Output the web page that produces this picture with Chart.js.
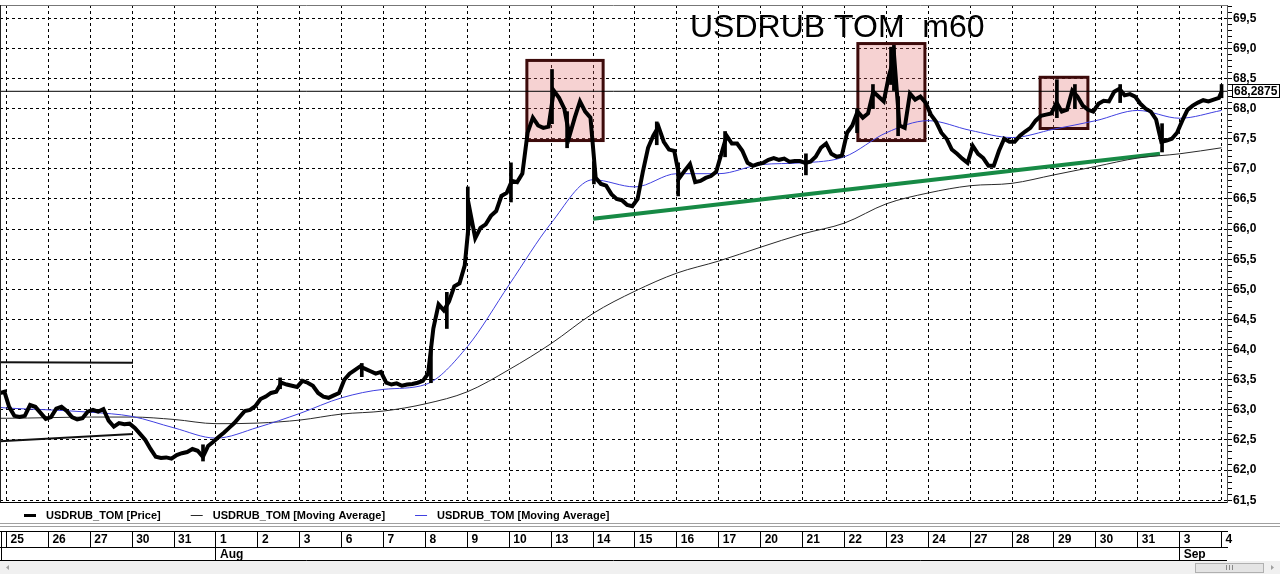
<!DOCTYPE html>
<html>
<head>
<meta charset="utf-8">
<script src="https://cdn.jsdelivr.net/npm/chart.js@4.4.1/dist/chart.umd.min.js"></script>
<style>
  html, body { margin: 0; padding: 0; background: #fff; }
  #wrap { width: 1280px; height: 574px; }
</style>
</head>
<body>
<div id="wrap"><canvas id="chart" width="1280" height="574"></canvas></div>
<script>
// USDRUB TOM, hourly bars (m60). x = trading-day index, 0 = Jul 25
const title = 'USDRUB TOM  m60';
const dayLabels = ['25','26','27','30','31','1','2','3','6','7','8','9','10','13','14','15','16','17','20','21','22','23','24','27','28','29','30','31','3','4'];
const monthTicks = [5, 28];
const monthLabels = ['Aug', 'Sep'];
const xMin = -0.155, xMax = 29.13;
const yMin = 61.47, yMax = 69.72;

// price: tail of Jul 24, then 8 readings per trading day, then Sep 4 open
const priceHead = [[-0.155, 63.28], [-0.05, 63.3]];
const priceByDay = [
  [63.05, 62.9, 62.88, 62.9, 63.08, 63.05, 62.95, 62.85],
  [62.88, 63.02, 63.05, 62.98, 62.88, 62.84, 62.86, 62.97],
  [63.0, 62.97, 63.01, 62.82, 62.72, 62.78, 62.76, 62.77],
  [62.7, 62.6, 62.5, 62.35, 62.22, 62.2, 62.21, 62.19],
  [62.25, 62.28, 62.3, 62.35, 62.32, 62.22, 62.4, 62.47],
  [62.55, 62.62, 62.7, 62.78, 62.88, 62.98, 63.0, 63.06],
  [63.18, 63.22, 63.28, 63.3, 63.45, 63.42, 63.4, 63.38],
  [63.48, 63.45, 63.4, 63.28, 63.22, 63.2, 63.24, 63.28],
  [63.5, 63.6, 63.66, 63.72, 63.68, 63.64, 63.6, 63.63],
  [63.45, 63.42, 63.44, 63.4, 63.42, 63.43, 63.45, 63.48],
  [63.6, 64.35, 64.75, 64.65, 64.8, 65.05, 65.1, 65.4],
  [66.3, 65.85, 66.02, 66.08, 66.22, 66.3, 66.55, 66.6],
  [66.8, 66.78, 66.92, 67.6, 67.85, 67.72, 67.68, 67.7],
  [68.3, 68.18, 68.0, 67.55, 67.85, 68.12, 67.95, 67.85],
  [66.85, 66.75, 66.72, 66.58, 66.5, 66.48, 66.4, 66.38],
  [66.5, 66.95, 67.35, 67.55, 67.7, 67.45, 67.32, 67.3],
  [66.85, 66.97, 67.08, 66.78, 66.8, 66.85, 66.88, 66.95],
  [67.25, 67.55, 67.42, 67.42, 67.3, 67.1, 67.05, 67.08],
  [67.1, 67.15, 67.18, 67.15, 67.17, 67.12, 67.13, 67.13],
  [67.1, 67.12, 67.2, 67.35, 67.42, 67.25, 67.2, 67.22],
  [67.6, 67.72, 67.95, 67.85, 67.92, 68.28, 68.2, 68.12],
  [68.55, 68.85, 67.72, 67.68, 68.25, 68.15, 68.2, 68.1],
  [67.9, 67.78, 67.6, 67.5, 67.32, 67.25, 67.17, 67.1],
  [67.38, 67.25, 67.18, 67.05, 67.05, 67.3, 67.5, 67.45],
  [67.45, 67.55, 67.62, 67.68, 67.8, 67.88, 67.9, 67.92],
  [68.1, 67.95, 67.98, 68.3, 68.2, 68.05, 67.98, 67.95],
  [68.08, 68.13, 68.12, 68.28, 68.33, 68.22, 68.24, 68.2],
  [68.08, 68.0, 67.95, 67.82, 67.45, 67.47, 67.5, 67.6],
  [67.8, 67.98, 68.05, 68.1, 68.14, 68.12, 68.15, 68.18]
];
const priceTail = [[29.0, 68.28]];
// notable high-low bars: [day, low, high]
const wicks = [
  [4.69, 62.15, 62.42], [6.53, 63.35, 63.53], [8.48, 63.55, 63.77], [10.13, 63.45, 64.05],
  [10.51, 64.35, 64.95], [11.01, 65.9, 66.7], [12.04, 66.45, 67.1], [13.02, 67.75, 68.65],
  [13.38, 67.35, 67.95], [14.02, 66.75, 67.12], [15.52, 67.4, 67.78], [16.03, 66.55, 67.1],
  [17.15, 67.2, 67.62], [19.08, 66.9, 67.25], [20.3, 67.6, 68.0], [20.68, 68.0, 68.4],
  [21.11, 68.4, 69.02], [21.18, 68.3, 69.05], [21.28, 67.55, 68.2], [25.07, 67.85, 68.48],
  [25.5, 68.0, 68.4], [26.58, 68.1, 68.4], [27.58, 67.28, 67.75], [29.0, 68.18, 68.4]
];

// moving averages, read at each day boundary
const maDays = [-0.155, 0, 1, 2, 3, 4, 5, 6, 7, 8, 9, 10, 11, 12, 13, 14, 15, 16, 17, 18, 19, 20, 21, 22, 23, 24, 25, 26, 27, 28, 29];
const maSlow = [62.86, 62.86, 62.87, 62.88, 62.88, 62.84, 62.77, 62.78, 62.83, 62.93, 62.98, 63.1, 63.3, 63.67, 64.1, 64.6,
  64.97, 65.27, 65.47, 65.7, 65.92, 66.1, 66.42, 66.6, 66.72, 66.76, 66.9, 67.04, 67.18, 67.25, 67.35];
const maFast = [63.04, 63.03, 63.0, 62.96, 62.89, 62.7, 62.53, 62.71, 62.94, 63.2, 63.34, 63.42, 64.05, 65.08, 66.1, 66.82,
  66.7, 66.92, 66.92, 67.07, 67.1, 67.2, 67.6, 67.8, 67.64, 67.52, 67.66, 67.8, 67.97, 67.84, 67.97];

const lastPrice = 68.2875;
const supportLine = [[14.0, 66.17], [27.53, 67.25]];
const rangeHigh = [[-0.155, 63.79], [3.02, 63.78]];
const rangeLow = [[-0.155, 62.48], [3.02, 62.6]];
// highlighted zones: [day from, day to, low, high]
const boxes = [[12.42, 14.24, 67.47, 68.8], [20.32, 21.92, 67.47, 69.08], [24.67, 25.81, 67.67, 68.52]];

const FONT = '"Liberation Sans", Arial, sans-serif';
const isHalf = v => Math.abs(v * 2 - Math.round(v * 2)) < 1e-6;
const pts = arr => arr.map(([x, y]) => ({x, y}));

const pricePts = pts(priceHead);
priceByDay.forEach((vals, k) => vals.forEach((v, i) => pricePts.push({x: k + (i + 0.5) / vals.length, y: v})));
pricePts.push(...pts(priceTail));

const dayTicks = dayLabels.map((_, i) => ({value: i}));

const decor = {
  id: 'decor',
  beforeDatasetsDraw(chart) {
    const {ctx, scales: {x, y}} = chart;
    ctx.save();
    boxes.forEach(([d0, d1, lo, hi]) => {
      const l = x.getPixelForValue(d0), r = x.getPixelForValue(d1);
      const t = y.getPixelForValue(hi), b = y.getPixelForValue(lo);
      ctx.fillStyle = 'rgba(225,105,105,0.3)';
      ctx.fillRect(l, t, r - l, b - t);
      ctx.lineWidth = 3;
      ctx.strokeStyle = '#3d0b0b';
      ctx.strokeRect(l, t, r - l, b - t);
    });
    ctx.restore();
  },
  afterDraw(chart) {
    const {ctx, chartArea: a, scales: {y, xd, xm}} = chart;
    const W = chart.width, H = chart.height;
    ctx.save();

    // pane frame
    ctx.lineWidth = 1;
    ctx.strokeStyle = '#777';
    ctx.beginPath();
    ctx.moveTo(0, a.top + 0.5); ctx.lineTo(a.right, a.top + 0.5);
    ctx.stroke();
    ctx.strokeStyle = '#222';
    ctx.beginPath();
    ctx.moveTo(0.5, a.top); ctx.lineTo(0.5, a.bottom);
    ctx.stroke();

    // title
    ctx.fillStyle = '#000';
    ctx.font = '32px ' + FONT;
    ctx.textBaseline = 'alphabetic';
    ctx.fillText(title, a.left + 690, a.top + 32);

    // legend
    const ly = a.bottom + 13.5;
    ctx.font = 'bold 11px ' + FONT;
    ctx.textBaseline = 'middle';
    let lx = 24;
    chart.data.datasets.slice(0, 3).forEach(ds => {
      ctx.strokeStyle = ds.borderColor;
      ctx.lineWidth = Math.min(ds.borderWidth, 3);
      ctx.beginPath(); ctx.moveTo(lx, ly); ctx.lineTo(lx + 12, ly); ctx.stroke();
      ctx.fillStyle = '#000';
      ctx.fillText(ds.label, lx + 22, ly);
      lx += 22 + ctx.measureText(ds.label).width + 30;
    });

    // separators around legend
    ctx.lineWidth = 1;
    ctx.strokeStyle = '#a0a0a0';
    [21.5, 24.5].forEach(o => {
      ctx.beginPath(); ctx.moveTo(0, a.bottom + o); ctx.lineTo(W, a.bottom + o); ctx.stroke();
    });

    // date strip frame
    ctx.strokeStyle = '#000';
    ctx.beginPath();
    ctx.moveTo(0, xm.bottom + 0.5); ctx.lineTo(a.right, xm.bottom + 0.5);
    ctx.moveTo(1.5, xd.top); ctx.lineTo(1.5, xm.bottom);
    ctx.stroke();

    // scrollbar
    ctx.fillStyle = '#f0f0f0';
    ctx.fillRect(0, xm.bottom + 1, W, H - xm.bottom - 1);
    ctx.fillStyle = '#e4e4e4';
    ctx.strokeStyle = '#b0b0b0';
    ctx.fillRect(1195, 563, 68, 9);
    ctx.strokeRect(1195.5, 563.5, 68, 9);
    ctx.strokeStyle = '#888';
    [1226.5, 1229.5, 1232.5].forEach(gx => {
      ctx.beginPath(); ctx.moveTo(gx, 565); ctx.lineTo(gx, 570); ctx.stroke();
    });
    ctx.fillStyle = '#a0a0a0';
    ctx.beginPath(); ctx.moveTo(6, 567.5); ctx.lineTo(9, 565); ctx.lineTo(9, 570); ctx.fill();
    ctx.beginPath(); ctx.moveTo(1274, 567.5); ctx.lineTo(1271, 565); ctx.lineTo(1271, 570); ctx.fill();

    // last price tag
    const py = Math.round(y.getPixelForValue(lastPrice));
    ctx.fillStyle = '#fff';
    ctx.fillRect(a.right + 5, py - 6, 47, 13);
    ctx.strokeStyle = '#000';
    ctx.strokeRect(a.right + 5.5, py - 6.5, 47, 13);
    ctx.fillStyle = '#000';
    ctx.font = 'bold 12px ' + FONT;
    ctx.textBaseline = 'middle';
    ctx.fillText(lastPrice.toFixed(4).replace('.', ','), a.right + 7, py + 0.5);

    ctx.restore();
  }
};

const stripAxis = (weight, height, ticksFn, labels, pad) => ({
  type: 'linear', position: 'bottom', weight, min: xMin, max: xMax, offset: false,
  afterBuildTicks: s => { s.ticks = ticksFn(); },
  afterFit: s => { s.height = height; s.paddingLeft = 0; s.paddingRight = 0; },
  grid: { drawOnChartArea: false, drawTicks: true, tickLength: height, color: '#000', offset: false },
  border: { display: true, color: '#000', width: 1 },
  ticks: {
    autoSkip: false, maxRotation: 0, minRotation: 0, align: 'start', labelOffset: 4, padding: pad,
    color: '#000', font: { family: FONT, size: 12, weight: 'bold' },
    callback: (v, i) => labels[i]
  }
});

new Chart(document.getElementById('chart'), {
  type: 'line',
  data: {
    datasets: [
      { label: 'USDRUB_TOM [Price]', data: pricePts, borderColor: '#000', borderWidth: 4, pointRadius: 0, tension: 0, order: 0 },
      { label: 'USDRUB_TOM [Moving Average]', data: maDays.map((d, i) => ({x: d, y: maSlow[i]})), borderColor: '#2a2a2a', borderWidth: 1, pointRadius: 0, cubicInterpolationMode: 'monotone', order: 3 },
      { label: 'USDRUB_TOM [Moving Average]', data: maDays.map((d, i) => ({x: d, y: maFast[i]})), borderColor: '#4040e0', borderWidth: 1, pointRadius: 0, cubicInterpolationMode: 'monotone', order: 2 },
      { type: 'bar', label: 'bars', data: wicks.map(([x, lo, hi]) => ({x, y: [lo, hi]})), backgroundColor: '#000', barThickness: 3, order: 1 },
      { label: 'last', data: [{x: xMin, y: lastPrice}, {x: xMax, y: lastPrice}], borderColor: '#000', borderWidth: 1, pointRadius: 0, order: 5 },
      { label: 'support', data: pts(supportLine), borderColor: '#178a45', borderWidth: 4, pointRadius: 0, order: 4 },
      { label: 'range high', data: pts(rangeHigh), borderColor: '#111', borderWidth: 2, pointRadius: 0, order: 6 },
      { label: 'range low', data: pts(rangeLow), borderColor: '#111', borderWidth: 2, pointRadius: 0, order: 6 }
    ]
  },
  options: {
    responsive: false,
    animation: false,
    devicePixelRatio: 1,
    layout: { padding: { top: 5, left: 0, right: 0, bottom: 14 } },
    plugins: { legend: { display: false }, tooltip: { enabled: false } },
    scales: {
      x: {
        type: 'linear', position: 'bottom', weight: 0, min: xMin, max: xMax, offset: false,
        afterBuildTicks: s => { s.ticks = dayTicks.map(t => ({...t})); },
        afterFit: s => { s.height = 29; s.paddingLeft = 0; s.paddingRight = 0; },
        ticks: { display: false },
        grid: { color: '#000', lineWidth: 1, drawTicks: false, offset: false },
        border: { display: true, color: '#000', width: 1, dash: [3, 3] }
      },
      xd: stripAxis(1, 16, () => dayTicks.map(t => ({...t})), dayLabels, -15),
      xm: stripAxis(2, 13, () => monthTicks.map(v => ({value: v})), monthLabels, -13),
      y: {
        type: 'linear', position: 'right', min: yMin, max: yMax,
        afterFit: s => { s.width = 53; s.paddingTop = 0; s.paddingBottom = 0; },
        ticks: {
          stepSize: 0.1, maxTicksLimit: 200, autoSkip: false, includeBounds: false, padding: 1,
          color: '#000', font: { family: FONT, size: 12, weight: 'bold' },
          callback: v => isHalf(v) ? v.toFixed(1).replace('.', ',') : ''
        },
        grid: {
          color: c => (c.tick && isHalf(c.tick.value)) ? '#000' : 'rgba(0,0,0,0)',
          tickColor: '#000', tickLength: 5, lineWidth: 1
        },
        border: { display: true, color: '#555', width: 1, dash: [3, 3] }
      }
    }
  },
  plugins: [decor]
});
</script>
</body>
</html>
